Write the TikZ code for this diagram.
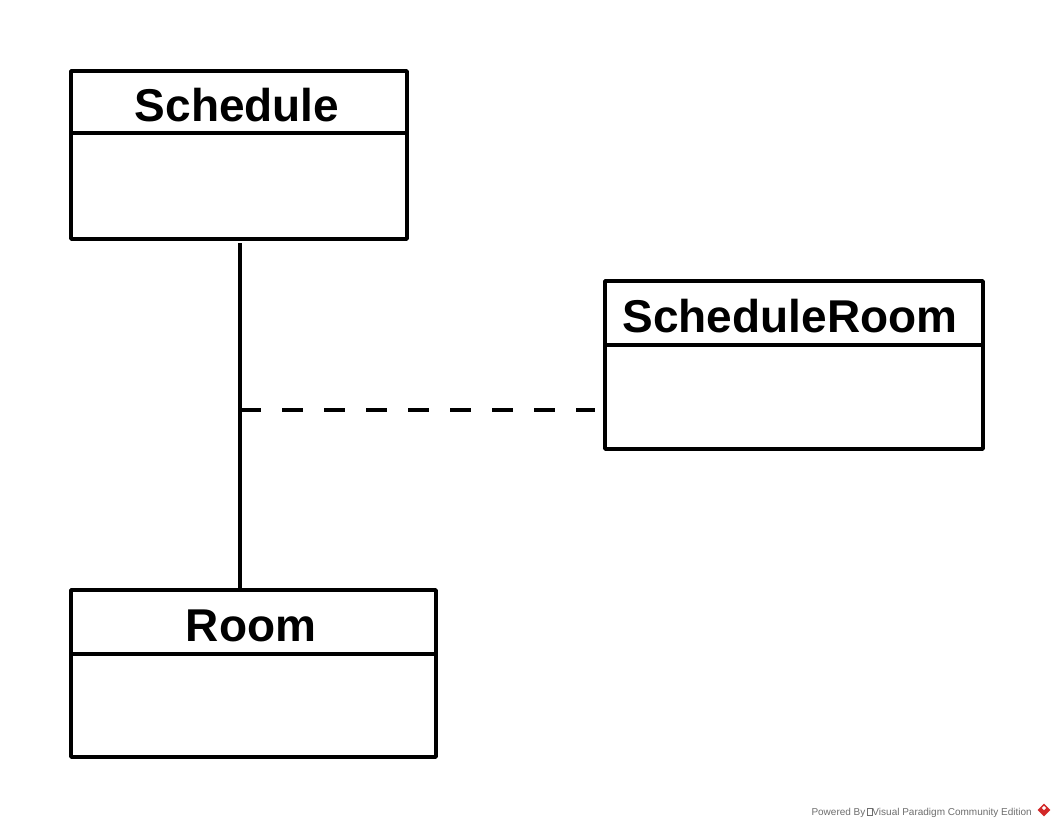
\documentclass[tikz,border=0pt]{standalone}
\usepackage{fontspec}
\setmainfont{Liberation Sans}
\usetikzlibrary{calc}
\definecolor{wmgray}{RGB}{110,110,110}
\definecolor{vpred}{RGB}{210,40,40}
\tikzset{
  cls/.style={draw=black, line width=3.5pt, line join=round, fill=white, inner sep=0pt, outer sep=0pt, anchor=north west},
  clstitle/.style={font=\fontsize{46}{52}\selectfont\bfseries, inner sep=0pt, anchor=base},
  divider/.style={draw=black, line width=3.5pt},
  assoc/.style={draw=black, line width=3.5pt},
  assocclass/.style={draw=black, line width=3.5pt, dash pattern=on 21pt off 21pt},
  watermark/.style={font=\fontsize{10}{12}\selectfont, text=wmgray, inner sep=0pt, anchor=base east}
}
\begin{document}
\begin{tikzpicture}[x=1pt,y=-1pt]
\useasboundingbox[fill=white] (0,0) rectangle (1056,828);
% class boxes
\node[cls, minimum width=336, minimum height=168] (sched) at (71,71) {};
\node[cls, minimum width=378, minimum height=168] (sr) at (605,281) {};
\node[cls, minimum width=365, minimum height=167] (room) at (71,590) {};
% dividers
\draw[divider] ([yshift=-62pt]sched.north west) -- ([yshift=-62pt]sched.north east);
\draw[divider] ([yshift=-64pt]sr.north west) -- ([yshift=-64pt]sr.north east);
\draw[divider] ([yshift=-64pt]room.north west) -- ([yshift=-64pt]room.north east);
% titles
\node[clstitle] (schedT) at (237,121) {Schedule};
\node[clstitle] (srT) at (790,332) {ScheduleRoom};
\node[clstitle] (roomT) at (251,641) {Room};
% association
\coordinate (assocTop) at ($(sched.south west)+(169,4)$);
\coordinate (assocBot) at (assocTop |- room.north);
\draw[assoc] (assocTop) -- (assocBot);
\coordinate (mid) at (240,410);
\draw[assocclass] (mid) -- ([xshift=-10pt]sr.west |- mid);
% watermark
\node[watermark] (wm) at (1032,815) {Powered By\,\tikz\draw[wmgray,line width=0.4pt](0,0) rectangle (5pt,7pt);Visual Paradigm Community Edition};
\node[fill=vpred, inner sep=0pt, rotate=45, minimum width=9pt, minimum height=9pt] (wmicon) at (1044,810) {};
\node[fill=white, inner sep=0pt, minimum width=3pt, minimum height=3pt, rotate=45] (wmdot) at (1044,808) {};
\end{tikzpicture}
\end{document}
